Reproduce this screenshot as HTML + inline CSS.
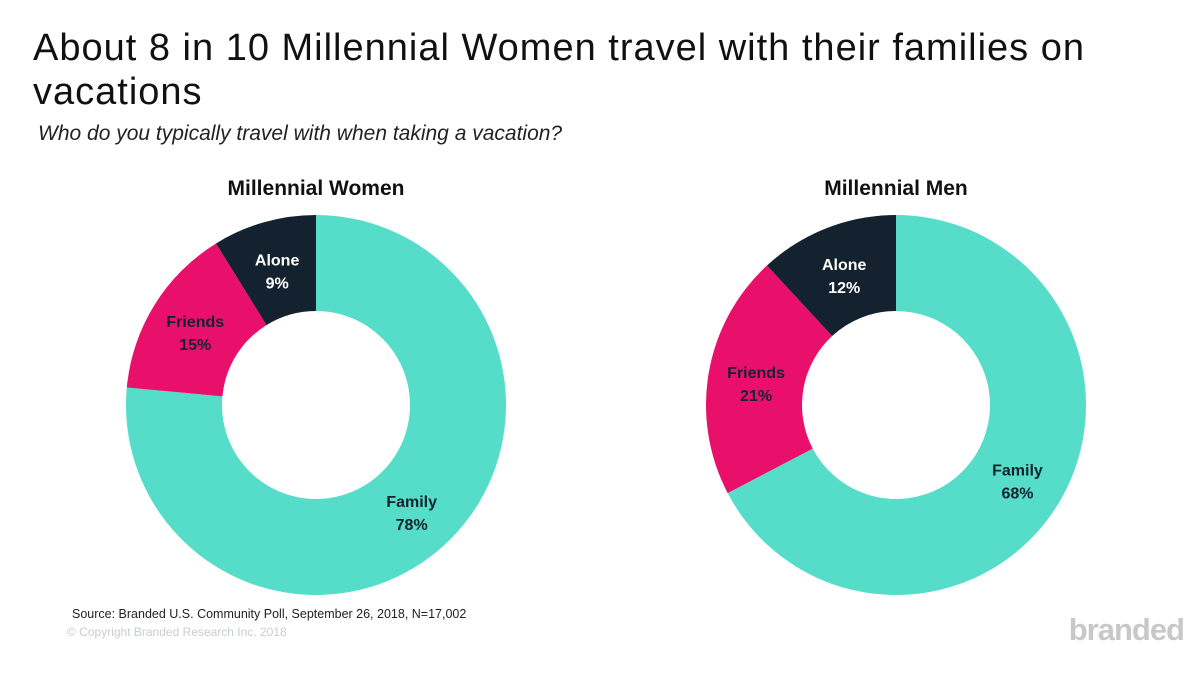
<!DOCTYPE html>
<html><head><meta charset="utf-8"><style>
body{margin:0;width:1200px;height:675px;background:#fff;font-family:"Liberation Sans",sans-serif;overflow:hidden;position:relative}
.t{position:absolute;left:33px;top:26px;font-size:38px;letter-spacing:1px;line-height:44px;color:#111;width:1090px}
.s{position:absolute;left:38px;top:122px;font-size:21px;font-style:italic;color:#222}
.src{position:absolute;left:72px;top:607px;font-size:12.5px;color:#222}
.cp{position:absolute;left:67px;top:625px;font-size:12px;color:#c9ccd3}
.br{position:absolute;right:16px;top:612px;font-size:31px;font-weight:bold;color:#c8c8c8;letter-spacing:-1px}
</style></head><body>
<div class="t">About 8 in 10 Millennial Women travel with their families on vacations</div>
<div class="s">Who do you typically travel with when taking a vacation?</div>
<svg id="c" width="1200" height="675" style="position:absolute;left:0;top:0"></svg>
<div class="src">Source: Branded U.S. Community Poll, September 26, 2018, N=17,002</div>
<div class="cp">© Copyright Branded Research Inc. 2018</div>
<div class="br">branded</div>
<script>
const categories=["Family","Friends","Alone"];
const womenValues=[78,15,9];
const menValues=[68,21,12];
const chartTitles=["Millennial Women","Millennial Men"];
const colors=["#55DDC9","#E8106A","#13222E"];
const labelColors=["#13222E","#13222E","#ffffff"];
const svg=document.getElementById('c');
const NS="http://www.w3.org/2000/svg";
function donut(cx,cy,values,title,key){
  const R=190,r=94,total=values.reduce((a,b)=>a+b,0);
  const t=document.createElementNS(NS,'text');
  t.setAttribute('x',cx);t.setAttribute('y',cy-210);t.setAttribute('text-anchor','middle');
  t.setAttribute('font-size','21');t.setAttribute('font-weight','bold');t.setAttribute('fill','#111');
  t.textContent=title;
  
  
  svg.appendChild(t);
  let a0=0;
  values.forEach((v,i)=>{
    const a1=a0+v/total*2*Math.PI;
    const p=(a,rad)=>[cx+rad*Math.sin(a),cy-rad*Math.cos(a)];
    const large=(a1-a0)>Math.PI?1:0;
    const [x0,y0]=p(a0,R),[x1,y1]=p(a1,R),[x2,y2]=p(a1,r),[x3,y3]=p(a0,r);
    const path=document.createElementNS(NS,'path');
    path.setAttribute('d',`M${x0},${y0}A${R},${R} 0 ${large} 1 ${x1},${y1}L${x2},${y2}A${r},${r} 0 ${large} 0 ${x3},${y3}Z`);
    path.setAttribute('fill',colors[i]);
    
    
    svg.appendChild(path);
    const [lx,ly]=p((a0+a1)/2,142);
    const lt=document.createElementNS(NS,'text');
    lt.setAttribute('x',lx);lt.setAttribute('y',ly-3);lt.setAttribute('text-anchor','middle');
    lt.setAttribute('font-size','16');lt.setAttribute('font-weight','bold');lt.setAttribute('fill',labelColors[i]);
    lt.innerHTML=`<tspan x="${lx}">${categories[i]}</tspan><tspan x="${lx}" dy="23">${v}%</tspan>`;
    
    
    svg.appendChild(lt);
    a0=a1;
  });
}
donut(316,405,womenValues,chartTitles[0],'women');
donut(896,405,menValues,chartTitles[1],'men');
</script>
</body></html>
